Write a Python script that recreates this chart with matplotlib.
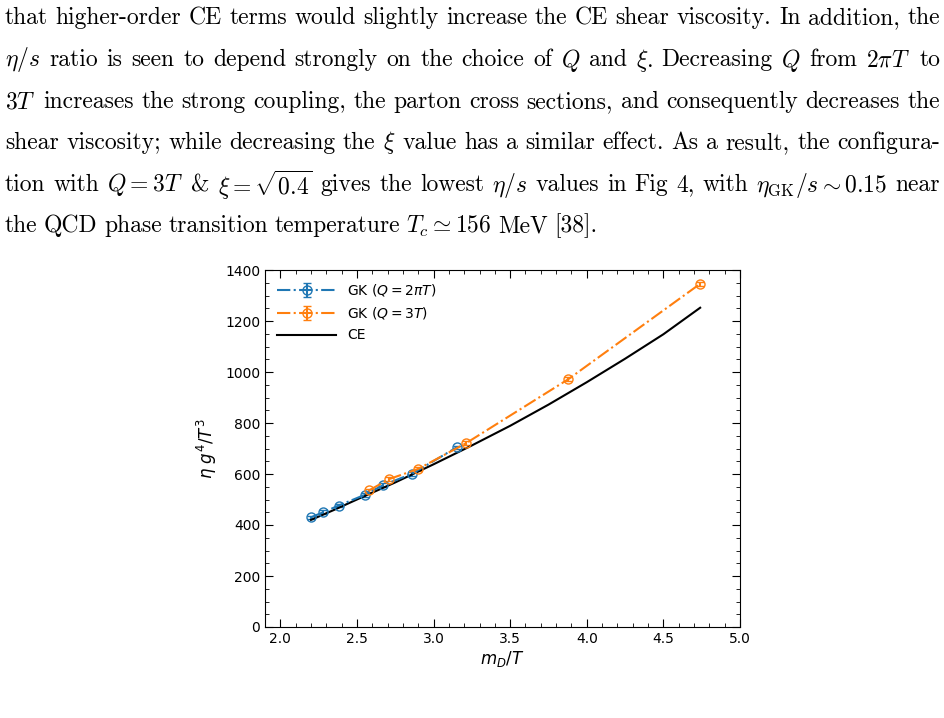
import matplotlib
matplotlib.use("Agg")
import matplotlib.pyplot as plt
from matplotlib.ticker import MultipleLocator

# GK results, Q = 2 pi T
gk_2pi_x = [2.20, 2.28, 2.38, 2.55, 2.67, 2.86, 3.15]
gk_2pi_y = [430, 450, 476, 518, 556, 601, 704]
gk_2pi_err = [7, 7, 7, 7, 7, 7, 7]

# GK results, Q = 3T
gk_3t_x = [2.58, 2.71, 2.90, 3.21, 3.88, 4.74]
gk_3t_y = [536, 580, 620, 720, 972, 1346]
gk_3t_err = [7, 8, 7, 8, 8, 8]

# Chapman-Enskog curve
ce_x = [2.20, 2.35, 2.50, 2.75, 3.00, 3.25, 3.50, 3.75, 4.00, 4.25, 4.50, 4.74]
ce_y = [420, 459, 500, 567, 638, 712, 789, 872, 960, 1052, 1148, 1252]

# page text above the figure
page_lines = [
    r"that higher-order CE terms would slightly increase the CE shear viscosity. In addition, the",
    r"$\eta/s$ ratio is seen to depend strongly on the choice of $Q$ and $\xi$. Decreasing $Q$ from $2\pi T$ to",
    r"$3T$ increases the strong coupling, the parton cross sections, and consequently decreases the",
    r"shear viscosity; while decreasing the $\xi$ value has a similar effect. As a result, the configura-",
    r"tion with $Q=3T$ & $\xi=\sqrt{0.4}$ gives the lowest $\eta/s$ values in Fig 4, with $\eta_{\rm GK}/s\sim0.15$ near",
    r"the QCD phase transition temperature $T_c\simeq156$ MeV [38].",
]

W, H = 945, 718
fig = plt.figure(figsize=(W / 100, H / 100), dpi=100)

# paragraph, justified word by word except the last line
renderer = fig.canvas.get_renderer()
left, right = 5, 940
line_y = [18, 60, 102, 143, 185, 226]
for i, (line, yy) in enumerate(zip(page_lines, line_y)):
    words = line.split(" ")
    # keep math groups together
    merged, buf = [], ""
    for w in words:
        buf = w if buf == "" else buf + " " + w
        if buf.count("$") % 2 == 0:
            merged.append(buf)
            buf = ""
    texts = []
    for w in merged:
        t = fig.text(0, 1 - yy / H, w, fontsize=17, family="cmr10",
                     math_fontfamily="cm", va="center", ha="left")
        texts.append(t)
    widths = [t.get_window_extent(renderer).width for t in texts]
    if i < len(page_lines) - 1:
        gap = (right - left - sum(widths)) / (len(texts) - 1)
    else:
        gap = 6.5
    x = left
    for t, w in zip(texts, widths):
        t.set_x(x / W)
        x += w + gap

ax = fig.add_axes([265 / W, 1 - 627 / H, 475 / W, 357 / H])

h1 = ax.errorbar(gk_2pi_x, gk_2pi_y, yerr=gk_2pi_err, color="#1f77b4", linestyle="-.",
                 marker="o", mfc="none", markersize=6.5, capsize=3, lw=1.5,
                 label=r"GK ($Q=2\pi T$)")
h2 = ax.errorbar(gk_3t_x, gk_3t_y, yerr=gk_3t_err, color="#ff7f0e", linestyle="-.",
                 marker="o", mfc="none", markersize=6.5, capsize=3, lw=1.5,
                 label=r"GK ($Q=3T$)")
h3, = ax.plot(ce_x, ce_y, color="black", lw=1.5, label="CE")

ax.set_xlim(1.9, 5.0)
ax.set_ylim(0, 1400)
ax.xaxis.set_major_locator(MultipleLocator(0.5))
ax.xaxis.set_minor_locator(MultipleLocator(0.1))
ax.yaxis.set_major_locator(MultipleLocator(200))
ax.yaxis.set_minor_locator(MultipleLocator(50))
ax.tick_params(which="both", direction="in", top=True, right=True, labelsize=10)
ax.tick_params(which="major", length=6)
ax.tick_params(which="minor", length=3)

ax.set_xlabel(r"$m_D/T$", fontsize=12, labelpad=2)
ax.set_ylabel(r"$\eta\ g^4/T^3$", fontsize=12)

ax.legend(handles=[h1, h2, h3], loc="upper left", frameon=False, fontsize=10,
          handlelength=4.2, borderaxespad=0.5, labelspacing=0.5)

fig.savefig("out.png", dpi=100)
